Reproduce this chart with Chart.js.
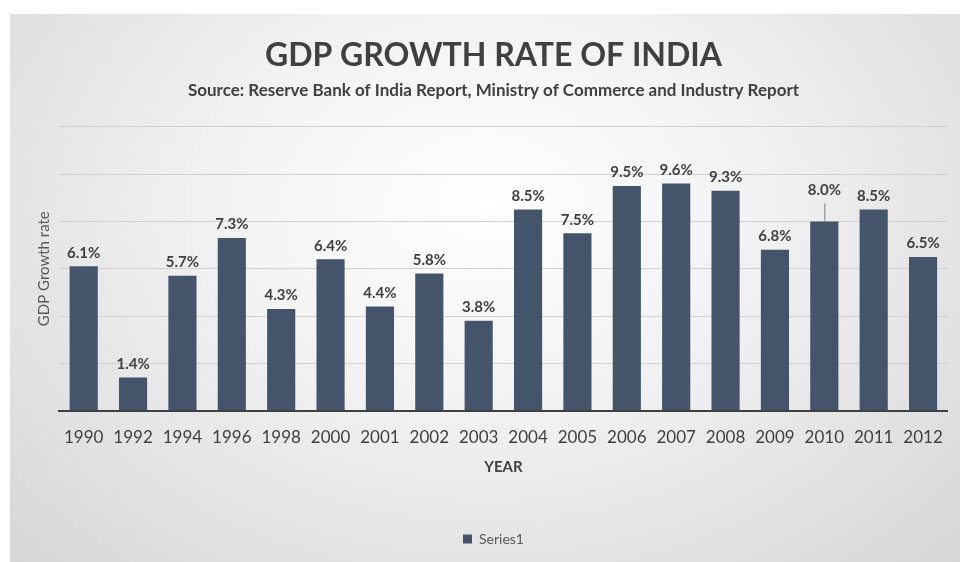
<!DOCTYPE html>
<html>
<head>
<meta charset="utf-8">
<script src="https://cdn.jsdelivr.net/npm/chart.js@4"></script>
<style>
  html, body { margin: 0; padding: 0; background: #ffffff; }
  #panel {
    position: absolute; left: 10px; top: 14px; width: 950px; height: 548px;
    background: radial-gradient(ellipse at 50% 35%, #ffffff 0%, #f2f2f2 40%, #d6d6d6 100%);
  }
  canvas { display: block; }
</style>
</head>
<body>
<div id="panel"><canvas id="gdp" width="950" height="548"></canvas></div>
<script>
var years = ["1990", "1992", "1994", "1996", "1998", "2000", "2001", "2002", "2003",
  "2004", "2005", "2006", "2007", "2008", "2009", "2010", "2011", "2012"];
var growth = [6.1, 1.4, 5.7, 7.3, 4.3, 6.4, 4.4, 5.8, 3.8,
  8.5, 7.5, 9.5, 9.6, 9.3, 6.8, 8.0, 8.5, 6.5];
var seriesName = "Series1";

var FONT = "Lato, 'Open Sans', sans-serif";
var BAR = "#44546a";

// labels above each bar, 2010 is lifted with a small leader line like the original
var barLabels = {
  id: "barLabels",
  afterDatasetsDraw: function (chart) {
    var ctx = chart.ctx;
    var meta = chart.getDatasetMeta(0);
    ctx.save();
    ctx.font = "bold 15px " + FONT;
    ctx.fillStyle = "#404040";
    ctx.textAlign = "center";
    ctx.textBaseline = "bottom";
    meta.data.forEach(function (bar, i) {
      var lift = years[i] == "2010" ? 18 : 0;
      if (lift) {
        ctx.strokeStyle = "#7f7f7f";
        ctx.lineWidth = 1;
        ctx.beginPath();
        ctx.moveTo(bar.x + 0.5, bar.y);
        ctx.lineTo(bar.x + 0.5, bar.y - lift);
        ctx.stroke();
      }
      ctx.fillText(growth[i].toFixed(1) + "%", bar.x, bar.y - 6 - lift);
    });
    ctx.restore();
  }
};

var config = {
  type: "bar",
  data: {
    labels: years,
    datasets: [{
      label: seriesName,
      data: growth,
      backgroundColor: BAR,
      borderWidth: 0,
      categoryPercentage: 1,
      barPercentage: 0.57
    }]
  },
  options: {
    responsive: false,
    animation: false,
    layout: { padding: { left: 25, right: 8, top: 0, bottom: 6 } },
    plugins: {
      title: {
        display: true,
        text: "GDP GROWTH RATE OF INDIA",
        color: "#404040",
        font: { family: FONT, size: 32, weight: "bold" },
        padding: { top: 22, bottom: 6 }
      },
      subtitle: {
        display: true,
        text: "Source: Reserve Bank of India Report, Ministry of Commerce and Industry Report",
        color: "#404040",
        font: { family: FONT, size: 17, weight: "bold" },
        padding: { top: 0, bottom: 26 }
      },
      legend: {
        position: "bottom",
        labels: {
          color: "#595959",
          font: { family: FONT, size: 14 },
          boxWidth: 9, boxHeight: 9,
          padding: 10
        }
      },
      tooltip: { enabled: false }
    },
    scales: {
      x: {
        grid: { display: false, drawTicks: false },
        border: { color: "#404040", width: 2 },
        ticks: { color: "#404040", font: { family: FONT, size: 17 }, padding: 17, maxRotation: 0, autoSkip: false },
        title: {
          display: true, text: "YEAR", color: "#404040",
          font: { family: FONT, size: 15, weight: "bold" },
          padding: { top: -7, bottom: 46 }
        }
      },
      y: {
        min: 0, max: 12,
        ticks: { display: false, stepSize: 2 },
        grid: { color: "#d0d0d0", lineWidth: 1, drawTicks: false },
        border: { display: false },
        title: {
          display: true, text: "GDP Growth rate", color: "#595959",
          font: { family: FONT, size: 15 },
          padding: { top: 0, bottom: 6 }
        }
      }
    }
  },
  plugins: [barLabels]
};

var ctx = document.getElementById("gdp").getContext("2d");
new Chart(ctx, config);
</script>
</body>
</html>
